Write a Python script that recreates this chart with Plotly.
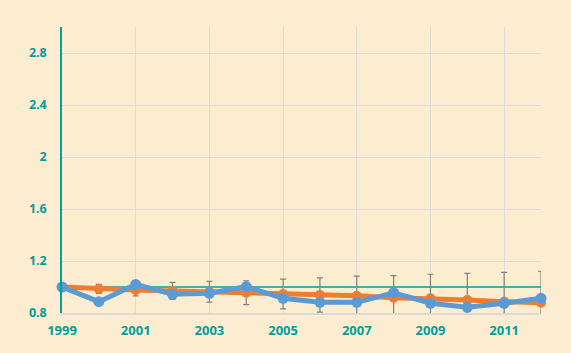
import plotly.graph_objects as go

years = list(range(1999, 2013))
orange_vals = [1.0, 0.985, 0.977, 0.97, 0.963, 0.956, 0.946, 0.938, 0.933, 0.918, 0.913, 0.90, 0.887, 0.879]
blue_vals = [1.0, 0.887, 1.02, 0.944, 0.952, 1.003, 0.913, 0.882, 0.882, 0.956, 0.875, 0.844, 0.875, 0.913]
err_vals = [0.0, 0.035, 0.045, 0.066, 0.08, 0.092, 0.115, 0.132, 0.15, 0.17, 0.185, 0.205, 0.226, 0.242]

teal = "#009E9E"
bg = "#FDEDD0"

fig = go.Figure()
fig.add_trace(go.Scatter(
    x=years, y=orange_vals, mode="lines+markers",
    line=dict(color="#ED7D31", width=5),
    marker=dict(size=10, color="#ED7D31"),
    error_y=dict(type="data", array=err_vals, visible=True, color="#808080", thickness=1.2, width=3),
    cliponaxis=False, showlegend=False,
))
fig.add_trace(go.Scatter(
    x=years, y=blue_vals, mode="lines+markers",
    line=dict(color="#5B9BD5", width=5),
    marker=dict(size=11, color="#5B9BD5"),
    cliponaxis=False, showlegend=False,
))
fig.add_shape(type="line", xref="x", yref="y", x0=1999, x1=2012, y0=1.0, y1=1.0,
              line=dict(color=teal, width=1.5), layer="below")

fig.update_layout(
    width=571, height=353,
    margin=dict(l=62, r=30, t=27, b=40),
    paper_bgcolor=bg, plot_bgcolor=bg,
    font=dict(family="Open Sans", color=teal, size=13),
    xaxis=dict(range=[1999, 2012], tick0=1999, dtick=2, showgrid=True, gridcolor="#DCDCDC",
               gridwidth=1, zeroline=False, showline=True, linecolor="#D9D9D9", linewidth=1.5,
               tickfont=dict(family="Open Sans", size=13, color=teal, weight="bold"), ticks="outside",
               ticklen=5, tickcolor="rgba(0,0,0,0)"),
    yaxis=dict(range=[0.8, 3.0], tickvals=[0.8, 1.2, 1.6, 2, 2.4, 2.8],
               ticktext=["0.8", "1.2", "1.6", "2", "2.4", "2.8"],
               showgrid=True, gridcolor="#DCDCDC", gridwidth=1, zeroline=False,
               showline=True, linecolor=teal, linewidth=1.5,
               tickfont=dict(family="Open Sans", size=12.5, color=teal, weight="bold"), ticks="outside",
               ticklen=11, tickcolor="rgba(0,0,0,0)"),
)
fig.write_html("out.html")
